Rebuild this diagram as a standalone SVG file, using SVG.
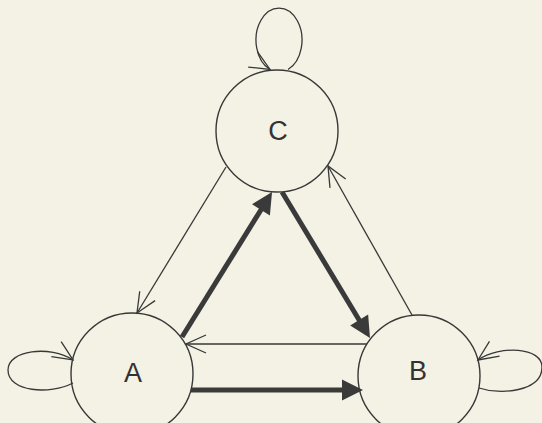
<svg xmlns="http://www.w3.org/2000/svg" width="542" height="423" viewBox="0 0 542 423">
  <style>
    .node { fill: none; stroke: #383838; stroke-width: 1.4; }
    .label { font-family: "Liberation Sans", Arial, sans-serif; font-size: 27px; fill: #333333; text-anchor: middle; }
    .thin { fill: none; stroke: #383838; stroke-width: 1.3; marker-end: url(#open); }
    .thick { fill: none; stroke: #3a3a3a; stroke-width: 5; marker-end: url(#solid); }
  </style>
  <defs>
    <!-- open two-stroke head for thin links and loops -->
    <marker id="open" markerUnits="userSpaceOnUse" orient="auto" refX="0" refY="0" markerWidth="40" markerHeight="40" overflow="visible">
      <path d="M-20,-9 L0,0 L-20,9" fill="none" stroke="#383838" stroke-width="1.3"/>
    </marker>
    <!-- filled head for heavy links; tip sits 12 units past the line end -->
    <marker id="solid" markerUnits="userSpaceOnUse" orient="auto" refX="0" refY="0" markerWidth="40" markerHeight="40" overflow="visible">
      <path d="M12,0 L-9,-10.5 L-9,10.5 z" fill="#3a3a3a"/>
    </marker>
  </defs>

  <rect width="542" height="423" fill="#f3f2e4"/>

  <g id="connectors">
    <!-- heavy links -->
    <path class="thick" d="M182,337 L265.7,202.2"/>
    <path class="thick" d="M282,192 L363.8,327.7"/>
    <path class="thick" d="M191,390 L351,390"/>
    <!-- light links -->
    <path class="thin" d="M367,344 L186,344"/>
    <path class="thin" d="M226,167 L137,313"/>
    <path class="thin" d="M412,315 L328,166"/>
    <!-- self loops -->
    <path class="thin" d="M288,69.5 A23,32 0 1,0 270,69.5"/>
    <path class="thin" d="M73,383 C50,395 8,392 8,370 C8,350 50,345 73,360"/>
    <path class="thin" d="M479,388 C500,395 542,392 542,367 C542,347 500,345 478,360"/>
  </g>

  <g id="node-C">
    <circle class="node" cx="277" cy="131" r="61"/>
    <text class="label" x="278" y="140">C</text>
  </g>
  <g id="node-A">
    <circle class="node" cx="132" cy="374" r="61"/>
    <text class="label" x="133" y="382">A</text>
  </g>
  <g id="node-B">
    <circle class="node" cx="419" cy="376" r="61"/>
    <text class="label" x="418" y="380">B</text>
  </g>
</svg>
